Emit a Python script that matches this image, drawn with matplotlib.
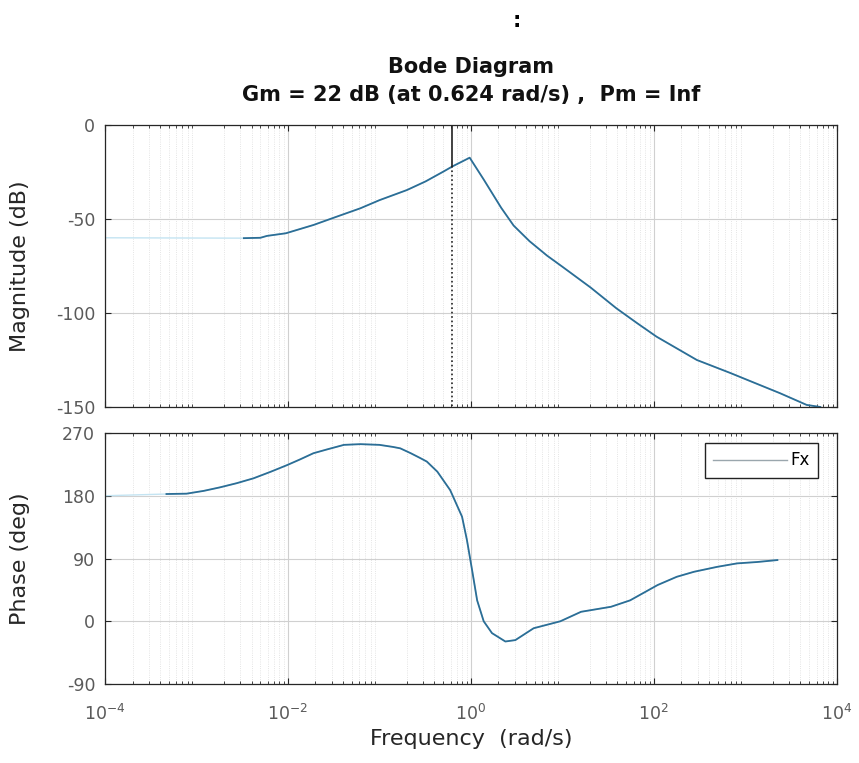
import numpy as np
import matplotlib.pyplot as plt
from matplotlib.ticker import LogLocator, NullFormatter

plt.rcParams['font.family'] = ['DejaVu Sans']
plt.rcParams['axes.unicode_minus'] = False

# magnitude response (rad/s, dB)
freq_mag = [1e-4, 3.3e-3, 5.0e-3, 5.9e-3, 9.5e-3, 0.019, 0.034, 0.062, 0.1,
            0.2, 0.32, 0.5, 0.63, 0.97, 1.38, 2.14, 2.93, 4.37, 6.8, 10,
            20.4, 38.9, 66, 107, 295, 692, 1050, 2400, 4680, 6600]
mag_db = [-60, -60.2, -60, -59, -57.6, -53.2, -48.8, -44.3, -40,
          -34.6, -30, -24.8, -22, -17.4, -29, -44, -53.5, -61.8, -69.5, -75.4,
          -86.5, -97.5, -105.5, -112.6, -125, -132, -135.6, -142.7, -148.9, -150]

# phase response (rad/s, deg)
freq_ph = [1e-4, 4.7e-4, 7.8e-4, 1.2e-3, 1.8e-3, 2.75e-3, 4.2e-3, 6.5e-3,
           9.8e-3, 0.0135, 0.019, 0.027, 0.041, 0.062, 0.1, 0.141, 0.169,
           0.22, 0.28, 0.33, 0.43, 0.594, 0.80, 0.905, 1.03, 1.17, 1.38,
           1.7, 2.38, 3.06, 4.85, 9.5, 16, 34, 55, 110, 178, 275, 490, 810,
           1350, 2240]
phase_deg = [180, 182.5, 183, 187, 192, 198, 205, 214.5,
             224, 232, 241, 246.6, 253, 254, 253, 250, 248,
             241, 234, 229, 214.5, 188, 150, 116.5, 73.5, 30, 0,
             -17, -29, -27, -10, 0, 13.6, 20.8, 30, 52, 63.8, 71, 78, 83,
             85, 87.8]

# gain margin
gm_db = 22
gm_freq = 0.624

line_col = '#2c6e96'
faint_col = '#c4e4f2'
tick_col = '#5a5a5a'
label_col = '#262626'

fig = plt.figure(figsize=(8.59, 7.63), dpi=100)
ax1 = fig.add_axes([0.1222, 0.4666, 0.852, 0.3696])
ax2 = fig.add_axes([0.1222, 0.1035, 0.852, 0.329])

for ax in (ax1, ax2):
    ax.set_xscale('log')
    ax.set_xlim(1e-4, 1e4)
    ax.xaxis.set_major_locator(LogLocator(base=10, numticks=10))
    ax.xaxis.set_minor_locator(LogLocator(base=10, subs=np.arange(2, 10), numticks=100))
    ax.xaxis.set_minor_formatter(NullFormatter())
    ax.grid(True, which='major', color='#d0d0d0', lw=0.8)
    ax.grid(True, which='minor', color='#dcdcdc', lw=0.6, ls=':')
    ax.tick_params(which='both', direction='in', top=True, right=True,
                   colors='#262626', labelsize=12.5, labelcolor=tick_col)
    ax.tick_params(which='major', length=4)
    ax.tick_params(which='minor', length=2)
    ax.tick_params(axis='y', pad=7)
    for s in ax.spines.values():
        s.set_color('#262626')
        s.set_linewidth(0.9)

# magnitude
ax1.plot(freq_mag, mag_db, color=faint_col, lw=1.0)
ax1.plot(freq_mag[1:], mag_db[1:], color=line_col, lw=1.3)
ax1.set_ylim(-150, 0)
ax1.set_yticks([-150, -100, -50, 0])
ax1.set_xticks([1e-4, 1e-2, 1, 1e2, 1e4])
ax1.tick_params(axis='x', labelbottom=False)
ax1.set_ylabel('Magnitude (dB)', fontsize=16, color=label_col)
ax1.yaxis.set_label_coords(-0.1025, 0.5)

# gain margin markers
ax1.plot([gm_freq, gm_freq], [0, -gm_db], color='#222222', lw=1.2)
ax1.plot([gm_freq, gm_freq], [-gm_db, -150], color='#222222', lw=1.2, ls=':')

# phase
ax2.plot(freq_ph, phase_deg, color=faint_col, lw=1.0)
ax2.plot(freq_ph[1:], phase_deg[1:], color=line_col, lw=1.3, label='Fx')
ax2.set_ylim(-90, 270)
ax2.set_yticks([-90, 0, 90, 180, 270])
ax2.set_xticks([1e-4, 1e-2, 1, 1e2, 1e4])
ax2.set_xticklabels([r'$10^{-4}$', r'$10^{-2}$', r'$10^{0}$', r'$10^{2}$', r'$10^{4}$'])
ax2.tick_params(axis='x', pad=14)
ax2.set_ylabel('Phase (deg)', fontsize=16, color=label_col)
ax2.yaxis.set_label_coords(-0.1025, 0.5)
ax2.set_xlabel('Frequency  (rad/s)', fontsize=16, color=label_col, labelpad=4)

leg = ax2.legend(loc='upper right', bbox_to_anchor=(0.974, 0.96), fontsize=12,
                 fancybox=False, framealpha=1, handlelength=4.4, borderaxespad=0,
                 handletextpad=0.2, borderpad=0.5)
leg.get_frame().set_edgecolor('#222222')
leg.get_frame().set_linewidth(1.0)
for h in leg.get_lines():
    h.set_color('#9aa6ad')
    h.set_linewidth(1.0)

fig.text(0.548, 0.912, 'Bode Diagram', fontsize=15, fontweight='bold',
         ha='center', va='center', color='#111111')
fig.text(0.548, 0.875, 'Gm = 22 dB (at 0.624 rad/s) ,  Pm = Inf', fontsize=15,
         fontweight='bold', ha='center', va='center', color='#111111')
fig.text(0.602, 0.972, ':', fontsize=15, fontweight='bold', ha='center', va='center')

fig.savefig('out.png', dpi=100)
